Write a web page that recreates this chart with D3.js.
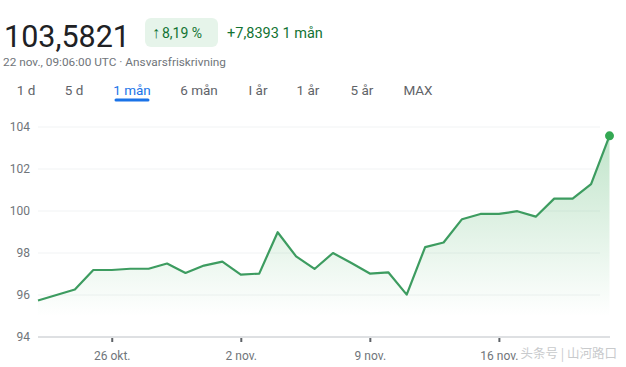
<!DOCTYPE html>
<html>
<head>
<meta charset="utf-8">
<script src="https://cdn.jsdelivr.net/npm/d3@7"></script>
<style>
    body { margin: 0; background: #fff; font-family: Roboto, "Noto Sans", Arial, sans-serif; }
    svg { display: block; }
</style>
</head>
<body>
<div id="chart"></div>
<script>
// Price data, one point per day
const dates = [
    "2025-10-22", "2025-10-23", "2025-10-24", "2025-10-25", "2025-10-26", "2025-10-27",
    "2025-10-28", "2025-10-29", "2025-10-30", "2025-10-31", "2025-11-01", "2025-11-02",
    "2025-11-03", "2025-11-04", "2025-11-05", "2025-11-06", "2025-11-07", "2025-11-08",
    "2025-11-09", "2025-11-10", "2025-11-11", "2025-11-12", "2025-11-13", "2025-11-14",
    "2025-11-15", "2025-11-16", "2025-11-17", "2025-11-18", "2025-11-19", "2025-11-20",
    "2025-11-21", "2025-11-22"
];
const prices = [
    95.74, 96.00, 96.26, 97.19, 97.19, 97.25, 97.25, 97.50, 97.05, 97.40, 97.59, 96.97,
    97.02, 98.99, 97.84, 97.24, 98.00, 97.52, 97.02, 97.08, 96.02, 98.28, 98.50, 99.61,
    99.86, 99.86, 99.99, 99.73, 100.59, 100.59, 101.28, 103.58
];
const yTicks = [94, 96, 98, 100, 102, 104];
const xTickDates = ["2025-10-26", "2025-11-02", "2025-11-09", "2025-11-16"];
const xTickLabels = ["26 okt.", "2 nov.", "9 nov.", "16 nov."];
const tabs = ["1 d", "5 d", "1 mån", "6 mån", "I år", "1 år", "5 år", "MAX"];
const tabCenters = [26, 74, 132, 199, 258, 308, 362, 418];
const activeTab = "1 mån";

const parse = d3.timeParse("%Y-%m-%d");
const data = dates.map((d, i) => ({date: parse(d), value: prices[i]}));

const W = 626, H = 367;
const svg = d3.select("#chart").append("svg")
    .attr("width", W)
    .attr("height", H);

// Header
svg.append("text")
    .attr("x", 4)
    .attr("y", 47)
    .attr("fill", "#202124")
    .style("font-size", "30.5px")
    .text("103,5821");

svg.append("rect")
    .attr("x", 145)
    .attr("y", 18)
    .attr("width", 73)
    .attr("height", 29)
    .attr("rx", 6)
    .attr("fill", "#e6f4ea");

const badge = svg.append("text")
    .attr("x", 152)
    .attr("y", 38)
    .attr("fill", "#137333")
    .style("font-size", "14px");
badge.append("tspan").style("font-size", "16px").text("↑");
badge.append("tspan").attr("dx", 2).text("8,19 %");

svg.append("text")
    .attr("x", 227)
    .attr("y", 38)
    .attr("fill", "#137333")
    .style("font-size", "14.5px")
    .text("+7,8393 1 mån");

svg.append("text")
    .attr("x", 3)
    .attr("y", 66)
    .attr("fill", "#70757a")
    .style("font-size", "11.8px")
    .text("22 nov., 09:06:00 UTC · Ansvarsfriskrivning");

// Range tabs
tabs.forEach((t, i) => {
    svg.append("text")
        .attr("x", tabCenters[i])
        .attr("y", 95)
        .attr("text-anchor", "middle")
        .attr("fill", t === activeTab ? "#1a73e8" : "#5f6368")
        .style("font-size", "13.5px")
        .text(t);
});
const activeIdx = tabs.indexOf(activeTab);
svg.append("line")
    .attr("x1", tabCenters[activeIdx] - 16)
    .attr("x2", tabCenters[activeIdx] + 16)
    .attr("y1", 100)
    .attr("y2", 100)
    .attr("stroke", "#1a73e8")
    .attr("stroke-width", 3)
    .attr("stroke-linecap", "round");

// Scales
const x = d3.scaleTime()
    .domain(d3.extent(data, d => d.date))
    .range([38, 609.5]);
const y = d3.scaleLinear()
    .domain([94, 104])
    .range([337, 127]);

// Grid
svg.append("g")
    .selectAll("line")
    .data(yTicks.filter(t => t !== 94))
    .enter()
    .append("line")
    .attr("x1", 38)
    .attr("x2", 600)
    .attr("y1", d => y(d))
    .attr("y2", d => y(d))
    .attr("stroke", "#f1f3f4")
    .attr("stroke-width", 1);

// Y labels
svg.append("g")
    .selectAll("text")
    .data(yTicks)
    .enter()
    .append("text")
    .attr("x", 30)
    .attr("y", d => y(d) + 4)
    .attr("text-anchor", "end")
    .attr("fill", "#70757a")
    .style("font-size", "12px")
    .text(d => d);

// Area gradient
const grad = svg.append("defs").append("linearGradient")
    .attr("id", "areaGrad")
    .attr("gradientUnits", "userSpaceOnUse")
    .attr("x1", 0).attr("x2", 0)
    .attr("y1", y(104)).attr("y2", y(95));
grad.append("stop").attr("offset", "0%").attr("stop-color", "#34a853").attr("stop-opacity", 0.32);
grad.append("stop").attr("offset", "100%").attr("stop-color", "#34a853").attr("stop-opacity", 0);

svg.append("path")
    .datum(data)
    .attr("fill", "url(#areaGrad)")
    .attr("d", d3.area()
        .x(d => x(d.date))
        .y0(y(94))
        .y1(d => y(d.value)));

// X axis
const xAxis = svg.append("g")
    .attr("transform", `translate(0,${y(94)})`)
    .call(d3.axisBottom(x)
        .tickValues(xTickDates.map(parse))
        .tickFormat((d, i) => xTickLabels[i])
        .tickSize(5)
        .tickPadding(9));
xAxis.select(".domain")
    .attr("stroke", "#bdc1c6")
    .attr("d", `M38,0H610`);
xAxis.selectAll(".tick line")
    .attr("stroke", "#5f6368")
    .attr("stroke-width", 2)
    .attr("y1", 1);
xAxis.selectAll(".tick text")
    .attr("fill", "#70757a")
    .style("font-size", "12px")
    .style("font-family", "Roboto, sans-serif");

// Line
svg.append("path")
    .datum(data)
    .attr("fill", "none")
    .attr("stroke", "#3d9c60")
    .attr("stroke-width", 2.2)
    .attr("stroke-linejoin", "round")
    .attr("d", d3.line()
        .x(d => x(d.date))
        .y(d => y(d.value)));

// End dot
const last = data[data.length - 1];
svg.append("circle")
    .attr("cx", x(last.date))
    .attr("cy", y(last.value))
    .attr("r", 4.5)
    .attr("fill", "#34a853");

// Watermark
svg.append("text")
    .attr("x", 617)
    .attr("y", 358)
    .attr("text-anchor", "end")
    .attr("fill", "#c8cacc")
    .style("font-size", "12.5px")
    .style("font-family", "'Noto Sans CJK SC', sans-serif")
    .text("头条号 | 山河路口");
</script>
</body>
</html>
